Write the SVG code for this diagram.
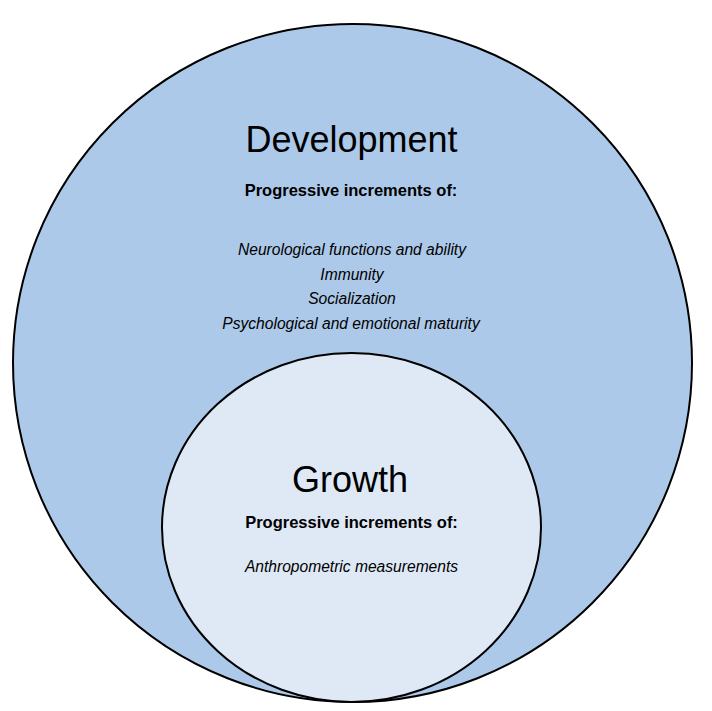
<svg xmlns="http://www.w3.org/2000/svg" width="712" height="711" viewBox="0 0 712 711">
<style>
.ring{stroke:#000;stroke-width:2}
.title{font-family:"Liberation Sans",Arial,sans-serif;font-size:36px;fill:#000;text-anchor:middle}
.sub{font-family:"Liberation Sans",Arial,sans-serif;font-size:16.5px;font-weight:bold;fill:#000;text-anchor:middle}
.item{font-family:"Liberation Sans",Arial,sans-serif;font-size:15.6px;font-style:italic;fill:#000;text-anchor:middle}
</style>
<rect width="712" height="711" fill="#fff"/>
<g id="development">
<ellipse class="ring" cx="352.5" cy="363" rx="339.5" ry="339" fill="#adc9e9"/>
<text class="title" x="351.5" y="152">Development</text>
<text class="sub" x="351" y="196">Progressive increments of:</text>
<text class="item" x="352" y="255">Neurological functions and ability</text>
<text class="item" x="352" y="280">Immunity</text>
<text class="item" x="352" y="304">Socialization</text>
<text class="item" x="351" y="329">Psychological and emotional maturity</text>
</g>
<g id="growth">
<ellipse class="ring" cx="351.5" cy="527.5" rx="189.5" ry="174.5" fill="#dfe9f6"/>
<text class="title" x="350" y="492">Growth</text>
<text class="sub" x="351.5" y="528">Progressive increments of:</text>
<text class="item" x="351.5" y="572">Anthropometric measurements</text>
</g>
<g id="connectors"/>
</svg>
